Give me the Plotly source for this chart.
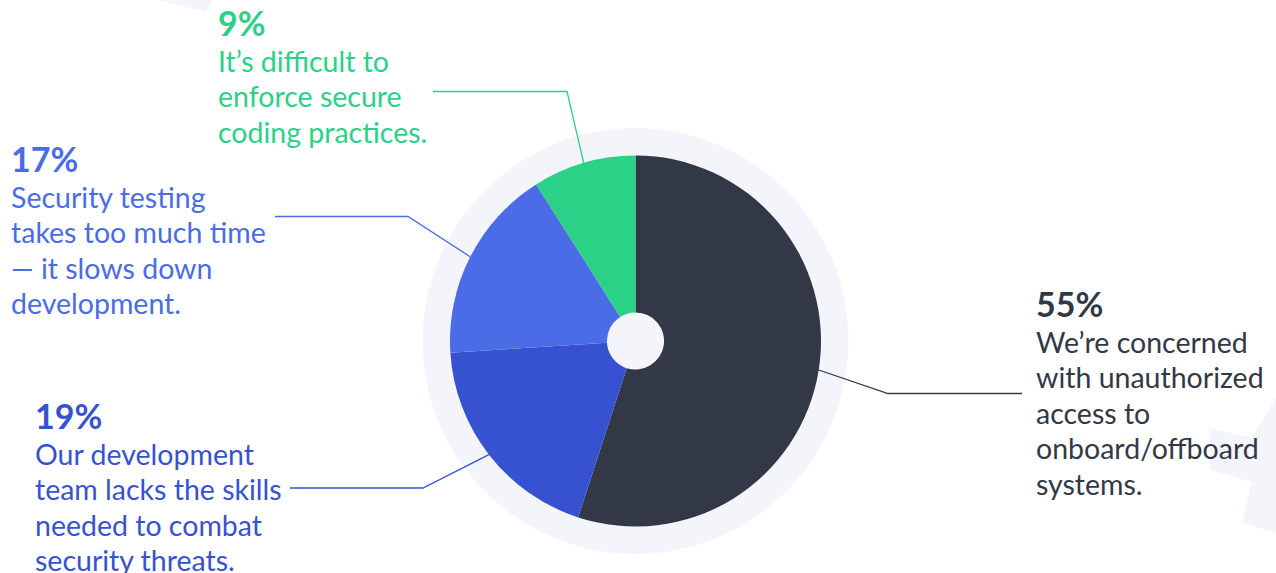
import math
import plotly.graph_objects as go

# ---- data ----
labels = [
    "We’re concerned with unauthorized access to onboard/offboard systems.",
    "Our development team lacks the skills needed to combat security threats.",
    "Security testing takes too much time — it slows down development.",
    "It’s difficult to enforce secure coding practices.",
]
values = [55, 19, 17, 9]
colors = ["#333846", "#3752d0", "#4a6ce6", "#2bd186"]
body_lines = [
    ["We’re concerned", "with unauthorized", "access to", "onboard/offboard", "systems."],
    ["Our development", "team lacks the skills", "needed to combat", "security threats."],
    ["Security testing", "takes too much time", "— it slows down", "development."],
    ["It’s difficult to", "enforce secure", "coding practices."],
]

# ---- layout constants (pixels) ----
W, H = 1276, 573
CX, CY, R = 635.5, 341.0, 185.5
RING_R = 213
HOLE = 0.154
FONT = "Lato"
HEAD_SIZE = 34
BODY_SIZE = 28.5
LINE_GAP = 35.5

# label block: (left x, heading baseline y)
label_pos = [(1034, 318), (33, 430), (9, 173), (216, 37)]
# leader knee and outer end points
knees = [(888, 393.5), (423, 488), (408, 216.5), (567, 91.5)]
outer = [(1022, 393.5), (290, 488), (275, 216.5), (433, 91.5)]

fig = go.Figure()

# hidden pixel axis for shapes/annotations
fig.add_trace(go.Scatter(x=[0, W], y=[0, H], mode="markers",
                         marker=dict(opacity=0), hoverinfo="skip", showlegend=False))

fig.add_trace(go.Pie(
    labels=labels, values=values, sort=False, direction="clockwise", rotation=0,
    hole=HOLE, textinfo="none", hoverinfo="label+percent",
    marker=dict(colors=colors, line=dict(width=0)),
    domain=dict(x=[(CX - R) / W, (CX + R) / W], y=[1 - (CY + R) / H, 1 - (CY - R) / H]),
    showlegend=False,
))

shapes = []
# decorative background shapes
shapes.append(dict(type="path", xref="x", yref="y", layer="below",
                   path="M 158 0 L 212 0 L 206 12 Z", fillcolor="#f4f5fa", line=dict(width=0)))
shapes.append(dict(type="path", xref="x", yref="y", layer="below",
                   path="M 1210 428 L 1252 438 L 1276 397 L 1276 533 L 1242 523 L 1252 482 L 1210 470 Z",
                   fillcolor="#f4f5fa", line=dict(width=0)))
# outer ring
shapes.append(dict(type="circle", xref="x", yref="y", layer="below",
                   x0=CX - RING_R, x1=CX + RING_R, y0=CY - RING_R, y1=CY + RING_R,
                   fillcolor="#f4f5fa", line=dict(width=0)))


def top_from_baseline(base, size):
    return base - 1.08 * size


total = sum(values)
cum = 0
annotations = []
for i, v in enumerate(values):
    mid = (cum + v / 2) / total * 2 * math.pi
    cum += v
    ex = CX + R * math.sin(mid)
    ey = CY - R * math.cos(mid)
    kx, ky = knees[i]
    ox, oy = outer[i]
    shapes.append(dict(type="path", xref="x", yref="y", layer="above",
                       path=f"M {ex:.1f} {ey:.1f} L {kx} {ky} L {ox} {oy}",
                       line=dict(color=colors[i], width=1.3)))
    lx, base = label_pos[i]
    annotations.append(dict(x=lx, y=top_from_baseline(base, HEAD_SIZE), xref="x", yref="y",
                            xanchor="left", yanchor="top", showarrow=False, align="left",
                            text=f"<b>{v}%</b>",
                            font=dict(family=FONT, size=HEAD_SIZE, color=colors[i])))
    for k, line in enumerate(body_lines[i]):
        b = base + LINE_GAP * (k + 1)
        annotations.append(dict(x=lx, y=top_from_baseline(b, BODY_SIZE), xref="x", yref="y",
                                xanchor="left", yanchor="top", showarrow=False, align="left",
                                text=line,
                                font=dict(family=FONT, size=BODY_SIZE, color=colors[i])))

fig.update_layout(
    width=W, height=H, margin=dict(l=0, r=0, t=0, b=0),
    paper_bgcolor="white", plot_bgcolor="rgba(0,0,0,0)",
    xaxis=dict(range=[0, W], visible=False, fixedrange=True),
    yaxis=dict(range=[H, 0], visible=False, fixedrange=True),
    shapes=shapes, annotations=annotations,
)

fig.write_html("out.html", config={"displayModeBar": False})

# remove default page margin so the figure sits at the window's top-left corner
with open("out.html", encoding="utf-8") as f:
    html = f.read()
html = html.replace("<head>", "<head><style>html,body{margin:0;padding:0;overflow:hidden;}</style>", 1)
with open("out.html", "w", encoding="utf-8") as f:
    f.write(html)
